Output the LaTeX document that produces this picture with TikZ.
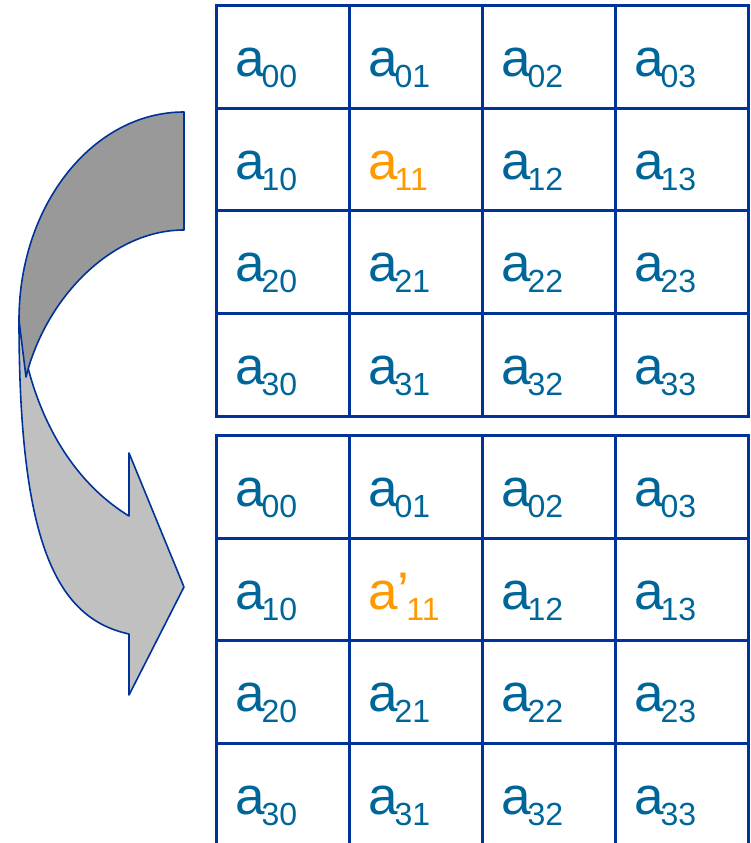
\documentclass[tikz,border=0pt]{standalone}
\usepackage{fontspec}
\setmainfont{Liberation Sans}
\definecolor{gridblue}{HTML}{003399}
\definecolor{ablue}{HTML}{006699}
\definecolor{aorange}{HTML}{FF9900}
\definecolor{darkfill}{HTML}{999999}
\definecolor{lightfill}{HTML}{C0C0C0}
\newcommand{\mainsz}{\fontsize{53}{53}\selectfont}
\newcommand{\subsz}{\fontsize{32}{32}\selectfont}
\newcommand{\sbs}[1]{\kern-3pt\raisebox{-11pt}{\subsz #1}}
\tikzset{
  cell/.style={draw=gridblue, line width=3pt, minimum width=133pt, minimum height=102.7pt, inner sep=0pt},
  lbl/.style={anchor=base west, inner sep=0pt, font=\mainsz},
  arrowpart/.style={draw=gridblue, line width=1.6pt, line join=round}
}
\begin{document}
\begin{tikzpicture}[x=1pt, y=-1pt]
\useasboundingbox (0,0) rectangle (750,843);
\clip (0,0) rectangle (750,843);
% curved arrow: lower (light) part first, upper (dark) part on top
\path[arrowpart, fill=lightfill] (19,320) .. controls (30,410) and (70,480) .. (129,516)
  -- (129,453) -- (184,587) -- (129,695) -- (129,634)
  .. controls (55,618) and (19,540) .. (19,320) -- cycle;
\path[arrowpart, fill=darkfill] (184,112) .. controls (92.9,112) and (19,205) .. (19,320)
  -- (26,377) .. controls (45,300) and (110,230) .. (184,230) -- cycle;
% top grid
\foreach \r in {0,...,3}{
  \foreach \c in {0,...,3}{
    \ifnum\r\c=11 \def\tc{aorange}\else\def\tc{ablue}\fi
    \node[cell] (t\r\c) at ({216+133*\c+66.5},{5.5+102.7*\r+51.35}) {};
    \node[lbl, text=\tc] (tl\r\c) at ({216+133*\c+19},{5.5+102.7*\r+71}) {a\sbs{\r\c}};
  }
}
% bottom grid
\foreach \r in {0,...,3}{
  \foreach \c in {0,...,3}{
    \ifnum\r\c=11 \def\tc{aorange}\def\pr{’}\else\def\tc{ablue}\def\pr{}\fi
    \node[cell] (b\r\c) at ({216+133*\c+66.5},{435.5+102.7*\r+51.35}) {};
    \node[lbl, text=\tc] (bl\r\c) at ({216+133*\c+19},{435.5+102.7*\r+71}) {a\pr\sbs{\r\c}};
  }
}
\end{tikzpicture}
\end{document}
